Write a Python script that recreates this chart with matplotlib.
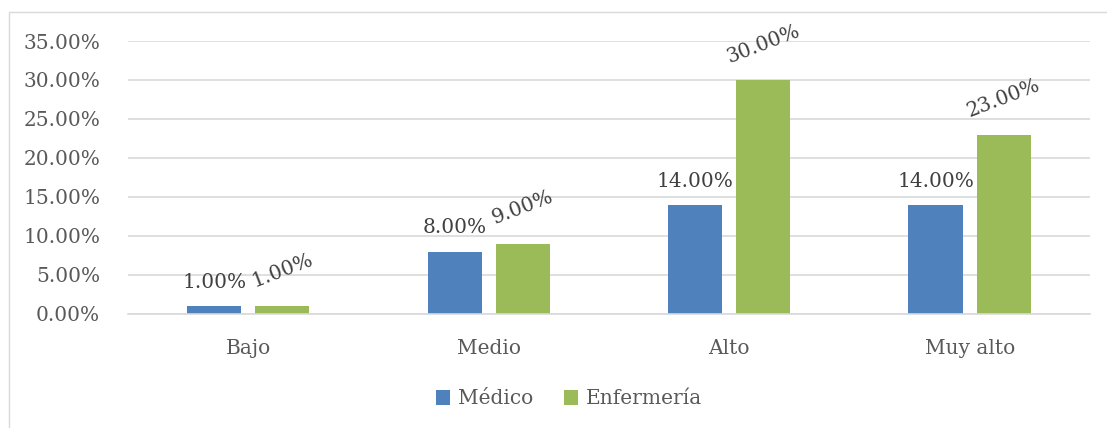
import numpy as np
import matplotlib.pyplot as plt
from matplotlib.patches import Rectangle
from matplotlib.ticker import FuncFormatter

categories = ["Bajo", "Medio", "Alto", "Muy alto"]
medico = [1.0, 8.0, 14.0, 14.0]
enfermeria = [1.0, 9.0, 30.0, 23.0]
series_names = ["Médico", "Enfermería"]

plt.rcParams['font.family'] = ['DejaVu Serif']

fig = plt.figure(figsize=(11.07, 4.28), dpi=100)
ax = fig.add_axes([0.1156, 0.2664, 0.869, 0.6378])

# outer frame of the chart
fig.patches.append(Rectangle((9 / 1107, -0.2), 1.2, 1.2 - 12 / 428,
                             transform=fig.transFigure, fill=False,
                             edgecolor='#d9d9d9', linewidth=1.0))

x = np.arange(len(categories))
w = 0.225
off = 0.142
ax.bar(x - off, medico, w, color='#4F81BD', label=series_names[0])
ax.bar(x + off, enfermeria, w, color='#9BBB59', label=series_names[1])

for xi, v in zip(x - off, medico):
    ax.annotate('{:.2f}%'.format(v), (xi, v), xytext=(0, 17),
                textcoords='offset points', ha='center', va='center',
                fontsize=14.5, color='#404040')
for xi, v in zip(x + off, enfermeria):
    ax.annotate('{:.2f}%'.format(v), (xi, v), xytext=(0, 26),
                textcoords='offset points', ha='center', va='center',
                rotation=21, fontsize=14.5, color='#404040')

ax.set_xlim(-0.5, 3.5)
ax.set_ylim(0, 35)
ax.set_yticks(np.arange(0, 36, 5))
ax.yaxis.set_major_formatter(FuncFormatter(lambda y, _: '{:.2f}%'.format(y)))
ax.set_xticks(x)
ax.set_xticklabels(categories)
ax.tick_params(length=0, labelsize=14.5, labelcolor='#595959')
ax.tick_params(axis='y', pad=20)
ax.tick_params(axis='x', pad=18)

ax.grid(axis='y', color='#d9d9d9', linewidth=1.2)
ax.set_axisbelow(True)
for s in ['top', 'right', 'left']:
    ax.spines[s].set_visible(False)
ax.spines['bottom'].set_color('#d9d9d9')
ax.spines['bottom'].set_linewidth(1.2)

leg = fig.legend(loc='center', bbox_to_anchor=(569 / 1107, 1 - 399 / 428),
                 ncol=2, frameon=False, fontsize=14.5, handlelength=0.7,
                 handleheight=0.7, handletextpad=0.4, columnspacing=1.5)
for t in leg.get_texts():
    t.set_color('#595959')

fig.savefig('out.png', dpi=100)
